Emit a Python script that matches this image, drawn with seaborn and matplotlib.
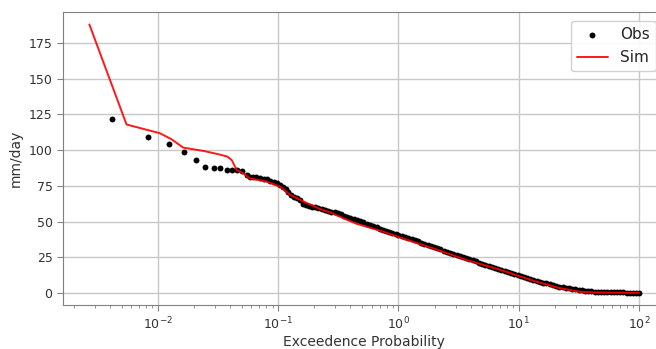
import numpy as np
import matplotlib
matplotlib.use("Agg")
import matplotlib.pyplot as plt
import seaborn as sns

# observed flow duration curve (exceedence probability in %, mm/day)
obs_prob = [0.0042, 0.0083, 0.0125, 0.0166, 0.0208, 0.0249, 0.0291, 0.0332, 0.0374, 0.0415, 0.0457, 0.0498,
            0.055, 0.058, 0.062, 0.066, 0.071, 0.076, 0.081, 0.086, 0.092, 0.098, 0.104, 0.111, 0.117, 0.122,
            0.127, 0.135, 0.143, 0.151, 0.160, 0.170, 0.180, 0.192, 0.204, 0.217, 0.230, 0.245, 0.26, 0.277,
            0.295, 0.313, 0.333, 0.355, 0.377, 0.40, 0.43, 0.45, 0.48, 0.51, 0.55, 0.58, 0.62, 0.66, 0.70,
            0.74, 0.79, 0.84, 0.89, 0.95, 1.0, 1.07, 1.14, 1.21, 1.29, 1.37, 1.45, 1.55, 1.65, 1.75, 1.86,
            1.98, 2.1, 2.24, 2.38, 2.53, 2.7, 2.87, 3.05, 3.24, 3.45, 3.67, 3.9, 4.15, 4.4, 4.7, 5.0, 5.3,
            5.65, 6.0, 6.4, 6.8, 7.2, 7.7, 8.2, 8.7, 9.2, 9.8, 10.4, 11.1, 11.8, 12.5, 13.3, 14.2, 15.1,
            16.0, 17.0, 18.1, 19.3, 20.5, 21.8, 23.2, 24.6, 26.2, 27.9, 29.6, 31.5, 33.5, 35.6, 37.9, 40.3,
            42.8, 45.5, 48.4, 51.5, 54.8, 58.2, 62, 66, 70, 74.5, 79, 84, 89.5, 95, 100]
obs_flow = [121.5, 109.0, 104.5, 98.5, 93.0, 88.0, 87.4, 87.4, 86.5, 86.5, 86.3, 85.5,
            82.7, 81.5, 81.5, 81.0, 80.4, 80.0, 79.7, 78.8, 78.0, 77.2, 76.0, 74.5, 73.0, 71.0,
            68.5, 67.5, 66.4, 65.0, 62.5, 61.5, 61.0, 60.6, 60.3, 59.7, 59.1, 58.5, 57.8, 57.1,
            56.5, 55.8, 55.1, 54.3, 53.6, 52.9, 52.0, 51.3, 50.5, 49.6, 48.6, 47.8, 46.9, 46.0, 44.8,
            44.1, 43.4, 42.7, 42.0, 41.5, 41.0, 40.2, 39.4, 38.6, 37.8, 37.0, 36.3, 35.4, 34.6, 33.8, 33.0,
            32.2, 31.4, 30.6, 29.8, 29.0, 28.2, 27.4, 26.6, 25.9, 25.1, 24.4, 23.6, 22.9, 22.2, 21.4, 20.7, 20.0,
            19.3, 18.6, 17.9, 17.2, 16.5, 15.7, 15.0, 14.3, 13.6, 12.9, 12.1, 11.4, 10.7, 10.0, 9.3, 8.6, 8.0,
            7.4, 6.8, 6.2, 5.6, 5.1, 4.6, 4.1, 3.7, 3.3, 2.9, 2.6, 2.3, 2.0, 1.7, 1.5, 1.3,
            1.1, 1.0, 0.9, 0.8, 0.7, 0.6, 0.5, 0.5, 0.5, 0.5, 0.4, 0.4, 0.4, 0.4, 0.4]

# simulated flow duration curve
sim_prob = [0.0027, 0.0055, 0.0104, 0.013, 0.0163, 0.024, 0.0326, 0.038, 0.0413, 0.0454, 0.0513, 0.058,
            0.0807, 0.1045, 0.1265, 0.174, 0.224, 0.27, 0.45, 0.70, 0.98, 1.43, 1.94, 3.66, 7.05, 13.3,
            21.7, 32, 41.6, 50, 70, 100]
sim_flow = [188.0, 118.0, 111.9, 107.7, 101.8, 99.5, 97.0, 95.5, 93.0, 86.0, 83.9, 80.4,
            78.0, 74.5, 68.7, 63.0, 58.8, 56.5, 48.5, 43.8, 39.6, 35.0, 31.4, 23.3, 16.3, 8.6,
            3.6, 1.0, 0.5, 0.4, 0.3, 0.3]

sns.set_style("whitegrid")
plt.rcParams['font.family'] = ['DejaVu Sans']

fig = plt.figure(figsize=(6.56, 3.49), dpi=100)
ax = fig.add_axes([63/656, 1-305/349, (665-63)/656, (305-12)/349])

sns.scatterplot(x=obs_prob, y=obs_flow, color='black', s=18, linewidth=0, label='Obs', ax=ax)
sns.lineplot(x=sim_prob, y=sim_flow, color='red', linewidth=1.4, alpha=0.9, label='Sim', ax=ax)

ax.set_xscale('log')
ax.set_xlim(0.00163, 165)
ax.set_ylim(-8.3, 196.7)
ax.set_yticks(np.arange(0, 176, 25))
ax.grid(True, which='major', color='#c8c8c8', linewidth=1)
for s in ax.spines.values():
    s.set_color('#808080')
ax.tick_params(axis='both', which='both', direction='out', colors='#808080', labelcolor='#333333',
               labelsize=9, bottom=True, left=True)
ax.tick_params(axis='x', which='major', length=4)
ax.tick_params(axis='x', which='minor', length=2.5)
ax.tick_params(axis='y', length=4)
ax.set_xlabel('Exceedence Probability', fontsize=10, color='#333333', labelpad=2)
ax.set_ylabel('mm/day', fontsize=10, color='#333333')
ax.legend(loc='upper right', fontsize=11, markerscale=1.0, framealpha=0.9, borderaxespad=0.6)

fig.savefig('out.png', dpi=100)
